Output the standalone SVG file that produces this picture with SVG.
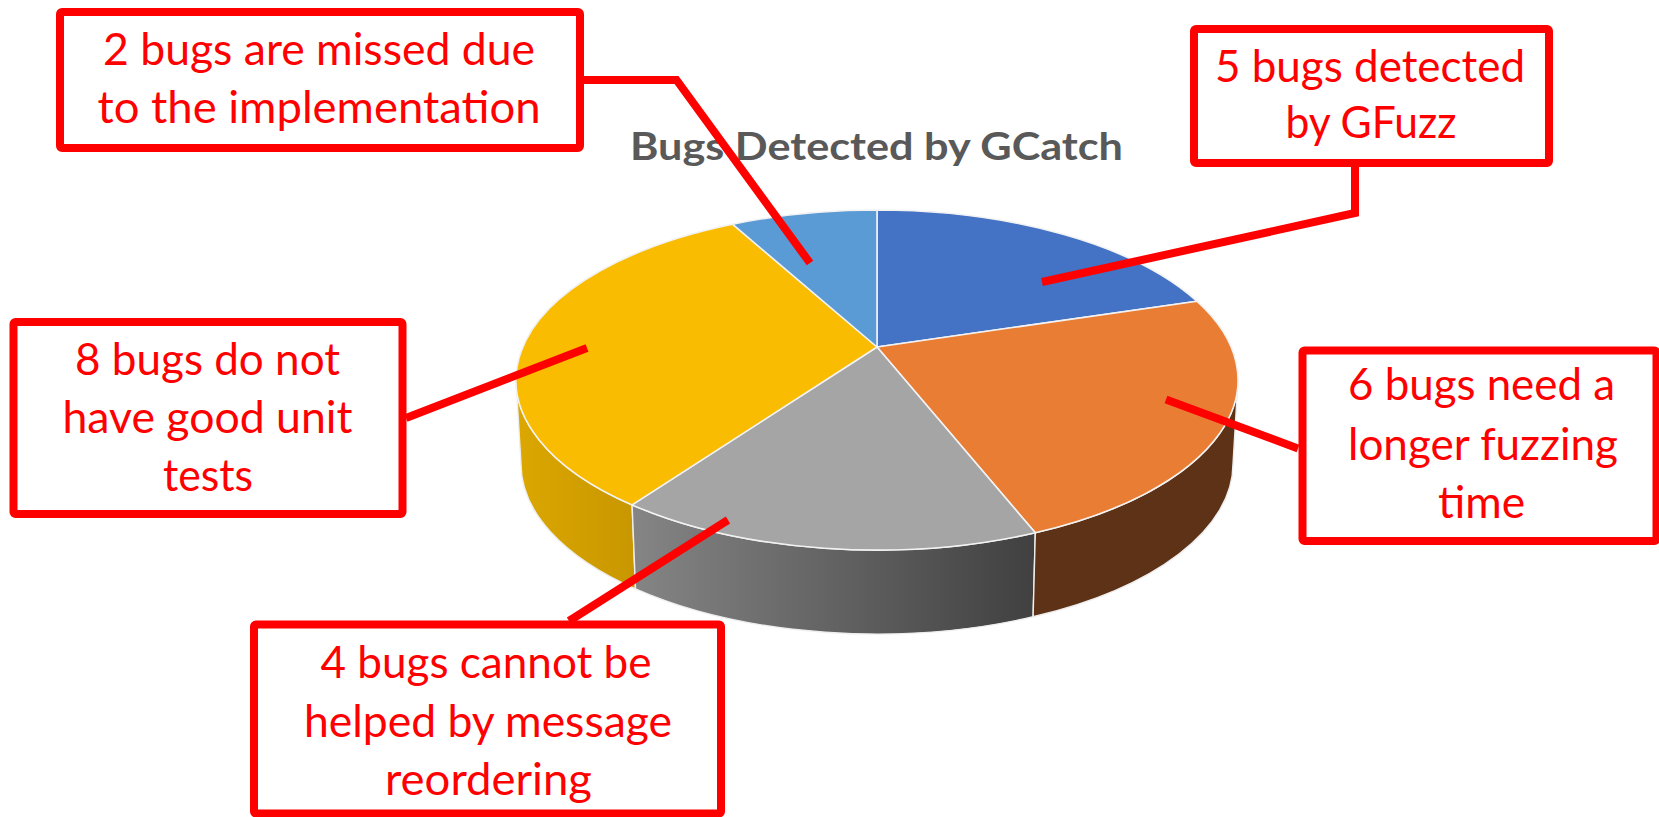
<svg xmlns="http://www.w3.org/2000/svg" width="1659" height="817" viewBox="0 0 1659 817">
  <defs>
    <style>
      .box { fill: #ffffff; stroke: #ff0000; stroke-width: 8; }
      .lbl { font-family: Lato, "Liberation Sans", sans-serif; font-size: 44px; fill: #ff0000; text-anchor: middle; }
      .title { font-family: Lato, "Liberation Sans", sans-serif; font-size: 38px; font-weight: bold; fill: #595959; text-anchor: middle; }
      .wire { fill: none; stroke: #ff0000; stroke-width: 8; stroke-linecap: butt; stroke-linejoin: miter; }
      .top { stroke: #f2f2f2; stroke-width: 1.6; stroke-linejoin: round; }
      .side { stroke: #eeeeee; stroke-width: 1.4; stroke-linejoin: round; }
    </style>
    <linearGradient id="gYellowSide" gradientUnits="userSpaceOnUse" x1="516" y1="0" x2="636" y2="0">
      <stop offset="0" stop-color="#dca700"/>
      <stop offset="1" stop-color="#c89700"/>
    </linearGradient>
    <linearGradient id="gGraySide" gradientUnits="userSpaceOnUse" x1="632" y1="0" x2="1035" y2="0">
      <stop offset="0" stop-color="#858585"/>
      <stop offset="1" stop-color="#404040"/>
    </linearGradient>
  </defs>

  <!-- 3D pie: side walls first, then the top face slices -->
  <g id="pie">
    <path class="side" fill="url(#gYellowSide)" d="M516,380 A361,170 0 0 0 632.1,504.9 L635.5,588.9 A356,170 0 0 1 521,464 Z"/>
    <path class="side" fill="url(#gGraySide)" d="M632.1,504.9 A361,170 0 0 0 1035.3,532.8 L1033.1,616.8 A356,170 0 0 1 635.5,588.9 Z"/>
    <path class="side" fill="#5e3217" d="M1035.3,532.8 A361,170 0 0 0 1238,380 L1233,464 A356,170 0 0 1 1033.1,616.8 Z"/>

    <path class="top" fill="#4472c4" d="M877,347 L877,210 A361,170 0 0 1 1196.9,301.2 Z"/>
    <path class="top" fill="#ea7d34" d="M877,347 L1196.9,301.2 A361,170 0 0 1 1035.3,532.8 Z"/>
    <path class="top" fill="#a5a5a5" d="M877,347 L1035.3,532.8 A361,170 0 0 1 632.1,504.9 Z"/>
    <path class="top" fill="#f9bc00" d="M877,347 L632.1,504.9 A361,170 0 0 1 732.5,224.2 Z"/>
    <path class="top" fill="#5b9bd5" d="M877,347 L732.5,224.2 A361,170 0 0 1 877,210 Z"/>
  </g>

  <text id="chart-title" class="title" x="876.5" y="160" textLength="493" lengthAdjust="spacingAndGlyphs">Bugs Detected by GCatch</text>

  <!-- callout boxes -->
  <g id="note-missed">
    <rect class="box" x="60" y="12" width="520" height="136" rx="2"/>
    <text class="lbl" x="319" y="65" textLength="432" lengthAdjust="spacingAndGlyphs">2 bugs are missed due</text>
    <text class="lbl" x="319" y="123" textLength="443" lengthAdjust="spacingAndGlyphs">to the implementation</text>
  </g>

  <g id="note-gfuzz">
    <rect class="box" x="1194" y="29" width="355" height="134" rx="2"/>
    <text class="lbl" x="1370" y="82" textLength="310" lengthAdjust="spacingAndGlyphs">5 bugs detected</text>
    <text class="lbl" x="1371" y="138" textLength="171" lengthAdjust="spacingAndGlyphs">by GFuzz</text>
  </g>

  <g id="note-unit-tests">
    <rect class="box" x="13.5" y="322" width="389" height="192" rx="2"/>
    <text class="lbl" x="207.5" y="375" textLength="265" lengthAdjust="spacingAndGlyphs">8 bugs do not</text>
    <text class="lbl" x="207.5" y="433" textLength="290" lengthAdjust="spacingAndGlyphs">have good unit</text>
    <text class="lbl" x="208" y="491" textLength="90" lengthAdjust="spacingAndGlyphs">tests</text>
  </g>

  <g id="note-reordering">
    <rect class="box" x="254" y="624.5" width="467" height="189" rx="2"/>
    <text class="lbl" x="486" y="678" textLength="331" lengthAdjust="spacingAndGlyphs">4 bugs cannot be</text>
    <text class="lbl" x="488" y="737" textLength="368" lengthAdjust="spacingAndGlyphs">helped by message</text>
    <text class="lbl" x="488.5" y="795" textLength="207" lengthAdjust="spacingAndGlyphs">reordering</text>
  </g>

  <g id="note-fuzz-time">
    <rect class="box" x="1302.5" y="350.5" width="354" height="190.5" rx="2"/>
    <text class="lbl" x="1481.5" y="400" textLength="267" lengthAdjust="spacingAndGlyphs">6 bugs need a</text>
    <text class="lbl" x="1483" y="460" textLength="270" lengthAdjust="spacingAndGlyphs">longer fuzzing</text>
    <text class="lbl" x="1481.5" y="518" textLength="87" lengthAdjust="spacingAndGlyphs">time</text>
  </g>

  <!-- leader lines from callouts to slices -->
  <g id="connectors">
    <polyline class="wire" points="584,80 676.5,80 810,263"/>
    <polyline class="wire" points="1355,167 1355,213 1042,282"/>
    <line class="wire" x1="406" y1="418" x2="587" y2="348"/>
    <line class="wire" x1="569" y1="621" x2="728" y2="520"/>
    <line class="wire" x1="1298" y1="448.5" x2="1166" y2="399.5"/>
  </g>
</svg>
